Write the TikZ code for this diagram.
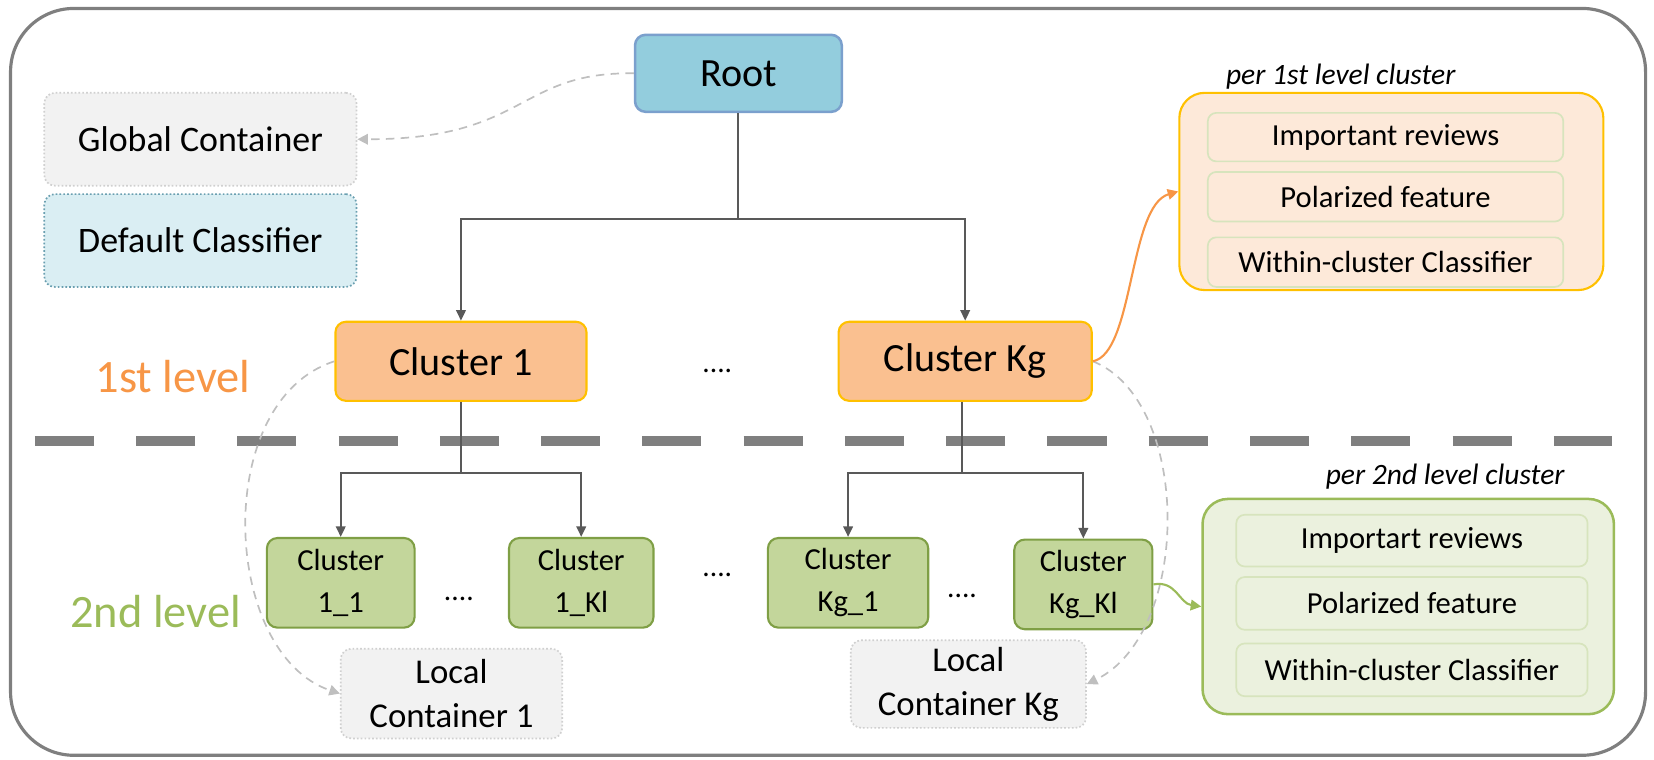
\documentclass[tikz,border=0pt]{standalone}
\usepackage{fontspec}
\setmainfont{Carlito}
\usetikzlibrary{arrows.meta}
\definecolor{rootfill}{HTML}{93CDDD}
\definecolor{rootdraw}{HTML}{7BA0CD}
\definecolor{greyfill}{HTML}{F2F2F2}
\definecolor{greydraw}{HTML}{D0D0D0}
\definecolor{bluefill}{HTML}{DAEEF3}
\definecolor{bluedraw}{HTML}{6A9FB0}
\definecolor{orfill}{HTML}{FAC090}
\definecolor{ordraw}{HTML}{FFC000}
\definecolor{grfill}{HTML}{C3D69B}
\definecolor{grdraw}{HTML}{7F9F45}
\definecolor{panAfill}{HTML}{FDE9D9}
\definecolor{panBfill}{HTML}{EBF1DE}
\definecolor{panBdraw}{HTML}{9BBB59}
\definecolor{rowdraw}{HTML}{D7E4BD}
\definecolor{linecol}{HTML}{595959}
\definecolor{sepcol}{HTML}{7F7F7F}
\definecolor{softcol}{HTML}{BFBFBF}
\definecolor{lvlA}{HTML}{F79646}
\definecolor{lvlB}{HTML}{9BBB59}
\tikzset{
  basebox/.style={rectangle, rounded corners=5pt, align=center, inner sep=0pt},
  rootbox/.style={basebox, fill=rootfill, draw=rootdraw, line width=1.2pt, font=\fontsize{19}{22}\selectfont},
  greybox/.style={basebox, fill=greyfill, draw=greydraw, densely dotted, line width=0.8pt, font=\fontsize{17}{21}\selectfont},
  bluebox/.style={basebox, fill=bluefill, draw=bluedraw, densely dotted, line width=0.8pt, font=\fontsize{17}{21}\selectfont},
  orbox/.style={basebox, fill=orfill, draw=ordraw, line width=1pt, font=\fontsize{19}{22}\selectfont},
  grbox/.style={basebox, fill=grfill, draw=grdraw, line width=1pt, font=\fontsize{14.5}{20}\selectfont},
  localbox/.style={basebox, fill=greyfill, draw=greydraw, densely dotted, line width=0.8pt, font=\fontsize{16.5}{21}\selectfont},
  panA/.style={rectangle, rounded corners=12pt, fill=panAfill, draw=ordraw, line width=1pt, inner sep=0pt},
  panB/.style={rectangle, rounded corners=12pt, fill=panBfill, draw=panBdraw, line width=1.2pt, inner sep=0pt},
  rowbox/.style={rectangle, rounded corners=4pt, draw=rowdraw, line width=0.8pt, inner sep=0pt, font=\fontsize{14.5}{17}\selectfont},
  ptitle/.style={font=\fontsize{14}{17}\selectfont\itshape, inner sep=0pt},
  dots/.style={font=\fontsize{14}{17}\selectfont, inner sep=0pt},
  conn/.style={draw=linecol, line width=1pt},
  connarr/.style={conn, -{Triangle[length=5pt,width=4.5pt]}},
  soft/.style={draw=softcol, line width=0.8pt, dash pattern=on 4pt off 3pt, -{Triangle[length=5pt,width=5pt]}},
}
\begin{document}
\begin{tikzpicture}[x=0.5pt,y=-0.5pt]
\useasboundingbox (0,0) rectangle (1568,720);
% outer frame
\draw[draw=sepcol, line width=1.5pt, rounded corners=30pt] (10,8) rectangle (1560,716);
% separator
\draw[draw=sepcol, line width=5pt, dash pattern=on 28pt off 20pt] (33,418) -- (1528,418);

% left top boxes
\node[rootbox, minimum width=98pt, minimum height=36.5pt] (root) at (700,69.5) {Root};
\node[greybox, minimum width=148pt, minimum height=44pt] (global) at (190,132) {Global Container};
\node[bluebox, minimum width=148pt, minimum height=44pt] (default) at (190,228) {Default Classifier};

% first level
\node[orbox, minimum width=119pt, minimum height=37.5pt] (c1) at (437,342.5) {Cluster 1};
\node[orbox, minimum width=120pt, minimum height=37.5pt] (ckg) at (915,342.5) {Cluster Kg};
\node[dots] (d1) at (680,352) {....};
\node[font=\fontsize{22}{26}\selectfont, text=lvlA, inner sep=0pt] (lvl1) at (164,357) {1st level};

% second level
\node[grbox, minimum width=70pt, minimum height=42.5pt] (c11) at (323,552.5) {Cluster\\1\_1};
\node[grbox, minimum width=68.5pt, minimum height=42.5pt] (c1k) at (551,552.5) {Cluster\\1\_Kl};
\node[grbox, minimum width=76pt, minimum height=42.5pt] (ckg1) at (804,552.5) {Cluster\\Kg\_1};
\node[grbox, minimum width=65.5pt, minimum height=42.5pt] (ckgk) at (1027,554) {Cluster\\Kg\_Kl};
\node[dots] (d2) at (435,568) {....};
\node[dots] (d3) at (680,545) {....};
\node[dots] (d4) at (912,565) {....};
\node[font=\fontsize{22}{26}\selectfont, text=lvlB, inner sep=0pt] (lvl2) at (147.5,580) {2nd level};

% local containers
\node[localbox, minimum width=105pt, minimum height=42.5pt] (loc1) at (428,657.5) {Local\\Container 1};
\node[localbox, minimum width=111.5pt, minimum height=41.5pt] (lockg) at (918,648.5) {Local\\Container Kg};

% panel A
\node[panA, minimum width=201pt, minimum height=93.5pt] (pa) at (1319,181.5) {};
\node[ptitle, anchor=south] (pat) at (1271,85) {per 1st level cluster};
\node[rowbox, minimum width=168.5pt, minimum height=23pt] (pa1) at (1313.5,130) {Important reviews};
\node[rowbox, minimum width=168.5pt, minimum height=23.5pt] (pa2) at (1313.5,186.5) {Polarized feature};
\node[rowbox, minimum width=168.5pt, minimum height=23.5pt] (pa3) at (1313.5,248.5) {Within-cluster Classifier};

% panel B
\node[panB, minimum width=195pt, minimum height=102pt] (pb) at (1335,575) {};
\node[ptitle, anchor=south] (pbt) at (1370,464) {per 2nd level cluster};
\node[rowbox, minimum width=166.5pt, minimum height=24.5pt] (pb1) at (1338.5,512.5) {Importart reviews};
\node[rowbox, minimum width=166.5pt, minimum height=25pt] (pb2) at (1338.5,572) {Polarized feature};
\node[rowbox, minimum width=166.5pt, minimum height=25pt] (pb3) at (1338.5,635) {Within-cluster Classifier};

% tree connectors
\coordinate (j0) at (700,208);
\draw[conn] (root.south) -- (j0);
\draw[connarr] (j0) -| (c1.north);
\draw[connarr] (j0) -| (ckg.north);
\coordinate (j1) at (437,448);
\draw[conn] (c1.south) -- (j1);
\draw[connarr] (j1) -| (c11.north);
\draw[connarr] (j1) -| (c1k.north);
\coordinate (j2) at (912,448);
\draw[conn] (ckg.south -| j2) -- (j2);
\draw[connarr] (j2) -| (ckg1.north);
\draw[connarr] (j2) -| (ckgk.north);

% soft dashed curves
\draw[soft] (root.west) .. controls (490,68) and (500,132) .. (global.east);
\draw[soft] (c1.west) .. controls (200,380) and (210,620) .. (loc1.west);
\draw[soft] (ckg.east) .. controls (1130,380) and (1130,600) .. (lockg.east);

% coloured arrows
\draw[draw=lvlA, line width=1pt, -{Triangle[length=5pt,width=5pt]}] (ckg.east) .. controls (1075,335) and (1070,195) .. (pa.west);
\draw[draw=panBdraw, line width=1pt, -{Triangle[length=5pt,width=5pt]}] (ckgk.east) .. controls (1115,550) and (1118,572) .. (pb.west);
\end{tikzpicture}
\end{document}
